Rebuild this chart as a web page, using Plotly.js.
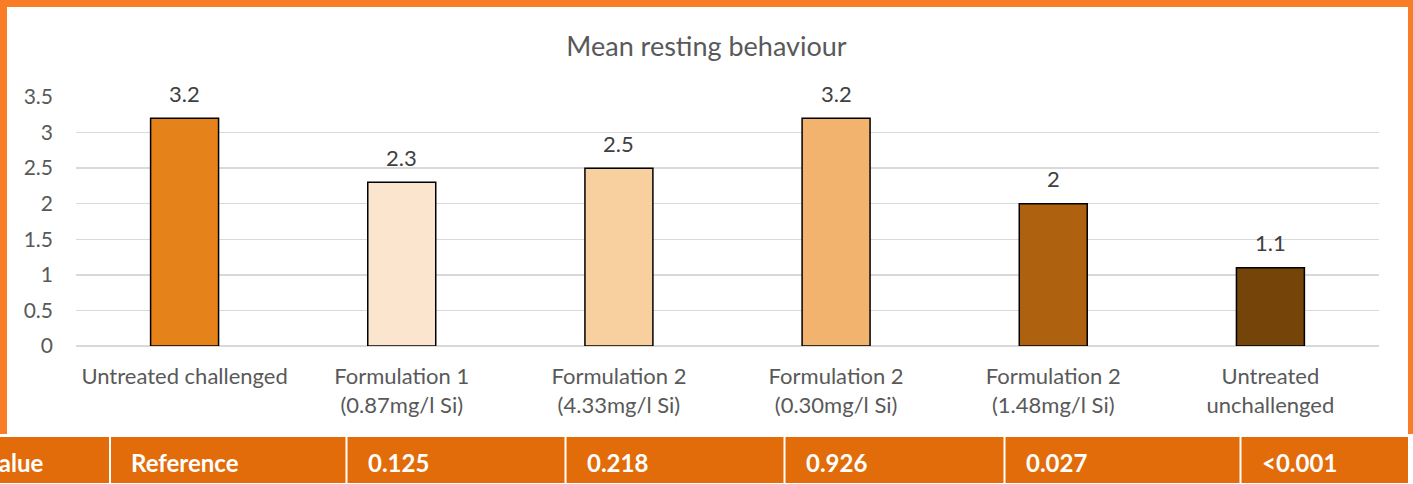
<!DOCTYPE html>
<html>
<head>
<meta charset="utf-8">
<script src="https://cdn.plot.ly/plotly-3.0.1.min.js"></script>
<style>
  html, body { margin: 0; padding: 0; background: #ffffff; overflow: hidden; }
  #chart { width: 1413px; height: 484px; }
</style>
</head>
<body>
<div id="chart"></div>
<script>
// ---- data ----
var categories = [
  "Untreated challenged",
  "Formulation 1<br>(0.87mg/l Si)",
  "Formulation 2<br>(4.33mg/l Si)",
  "Formulation 2<br>(0.30mg/l Si)",
  "Formulation 2<br>(1.48mg/l Si)",
  "Untreated<br>unchallenged"
];
var values = [3.2, 2.3, 2.5, 3.2, 2, 1.1];
var valueLabels = ["3.2", "2.3", "2.5", "3.2", "2", "1.1"];
var yTickVals = [0, 0.5, 1, 1.5, 2, 2.5, 3, 3.5];
var yTickText = ["0", "0.5", "1", "1.5", "2", "2.5", "3", "3.5"];
var tableTexts = ["P value", "Reference", "0.125", "0.218", "0.926", "0.027", "<0.001"];

// ---- styles ----
var barColors = ["#E6821A", "#FBE5CE", "#F8CF9F", "#F2B36E", "#AE610F", "#744408"];
var FONT = "Lato, 'Open Sans', sans-serif";
var W = 1413, H = 484;
var M = {l: 76, r: 34, t: 97, b: 138};
var PW = W - M.l - M.r, PH = H - M.t - M.b;
function px(x) { return (x - M.l) / PW; }
function py(y) { return (H - M.b - y) / PH; }

var frameColor = "#F97D26";
var tableColor = "#E36C0A";

var shapes = [];
// orange frame
shapes.push({type: "rect", xref: "paper", yref: "paper", x0: px(0), x1: px(W), y0: py(0), y1: py(7), fillcolor: frameColor, line: {width: 0}, layer: "below"});
shapes.push({type: "rect", xref: "paper", yref: "paper", x0: px(0), x1: px(7), y0: py(0), y1: py(434), fillcolor: frameColor, line: {width: 0}, layer: "below"});
shapes.push({type: "rect", xref: "paper", yref: "paper", x0: px(1408), x1: px(W), y0: py(0), y1: py(434), fillcolor: frameColor, line: {width: 0}, layer: "below"});

// table cells
var cellEdges = [-160, 110, 346.5, 565.5, 784.5, 1004.5, 1240.5, 1409];
var annotations = [];
for (var i = 0; i < tableTexts.length; i++) {
  var xa = cellEdges[i] + (i === 0 ? 0 : 1), xb = cellEdges[i + 1] - 1;
  shapes.push({type: "rect", xref: "paper", yref: "paper", x0: px(xa), x1: px(xb), y0: py(437), y1: py(483),
    fillcolor: tableColor, line: {width: 0}, layer: "above"});
  if (i === 0) {
    annotations.push({xref: "paper", yref: "paper", x: px(45), y: py(462), xanchor: "right", yanchor: "middle",
      text: "<b>" + tableTexts[i] + "</b>", showarrow: false, font: {family: FONT, size: 24, color: "#ffffff"}});
  } else {
    annotations.push({xref: "paper", yref: "paper", x: px(xa + 18), y: py(462), xanchor: "left", yanchor: "middle",
      text: "<b>" + tableTexts[i].replace("<", "&lt;") + "</b>", showarrow: false, font: {family: FONT, size: 24, color: "#ffffff"}});
  }
}

// bar value labels
for (var j = 0; j < categories.length; j++) {
  annotations.push({x: categories[j], y: values[j], xref: "x", yref: "y", text: valueLabels[j], showarrow: false,
    yanchor: "middle", yshift: 25, font: {family: FONT, size: 22, color: "#404040"}});
}

var trace = {
  type: "bar",
  x: categories,
  y: values,
  marker: {color: barColors, line: {color: "#000000", width: 1.5}},
  hoverinfo: "none"
};

var layout = {
  width: W, height: H,
  margin: M,
  paper_bgcolor: "#ffffff",
  plot_bgcolor: "#ffffff",
  showlegend: false,
  bargap: 0.687,
  title: {text: "Mean resting behaviour", x: 0.5, xref: "container", xanchor: "center", y: 1 - 47 / H, yanchor: "middle",
    font: {family: FONT, size: 27, color: "#595959"}},
  xaxis: {type: "category", showgrid: false, zeroline: false, showline: false, ticks: "",
    ticklabelstandoff: 15,
    tickfont: {family: FONT, size: 22, color: "#595959"}, automargin: false},
  yaxis: {range: [0, 3.5], tickvals: yTickVals, ticktext: yTickText, showgrid: true, gridcolor: "#D9D9D9", gridwidth: 1.5,
    zeroline: true, zerolinecolor: "#D9D9D9", zerolinewidth: 1.5, showline: false, ticks: "", ticklabelstandoff: 22,
    tickfont: {family: FONT, size: 21, color: "#595959"}, automargin: false},
  shapes: shapes,
  annotations: annotations,
  font: {family: FONT}
};

Plotly.newPlot("chart", [trace], layout, {displayModeBar: false, staticPlot: true});
</script>
</body>
</html>
